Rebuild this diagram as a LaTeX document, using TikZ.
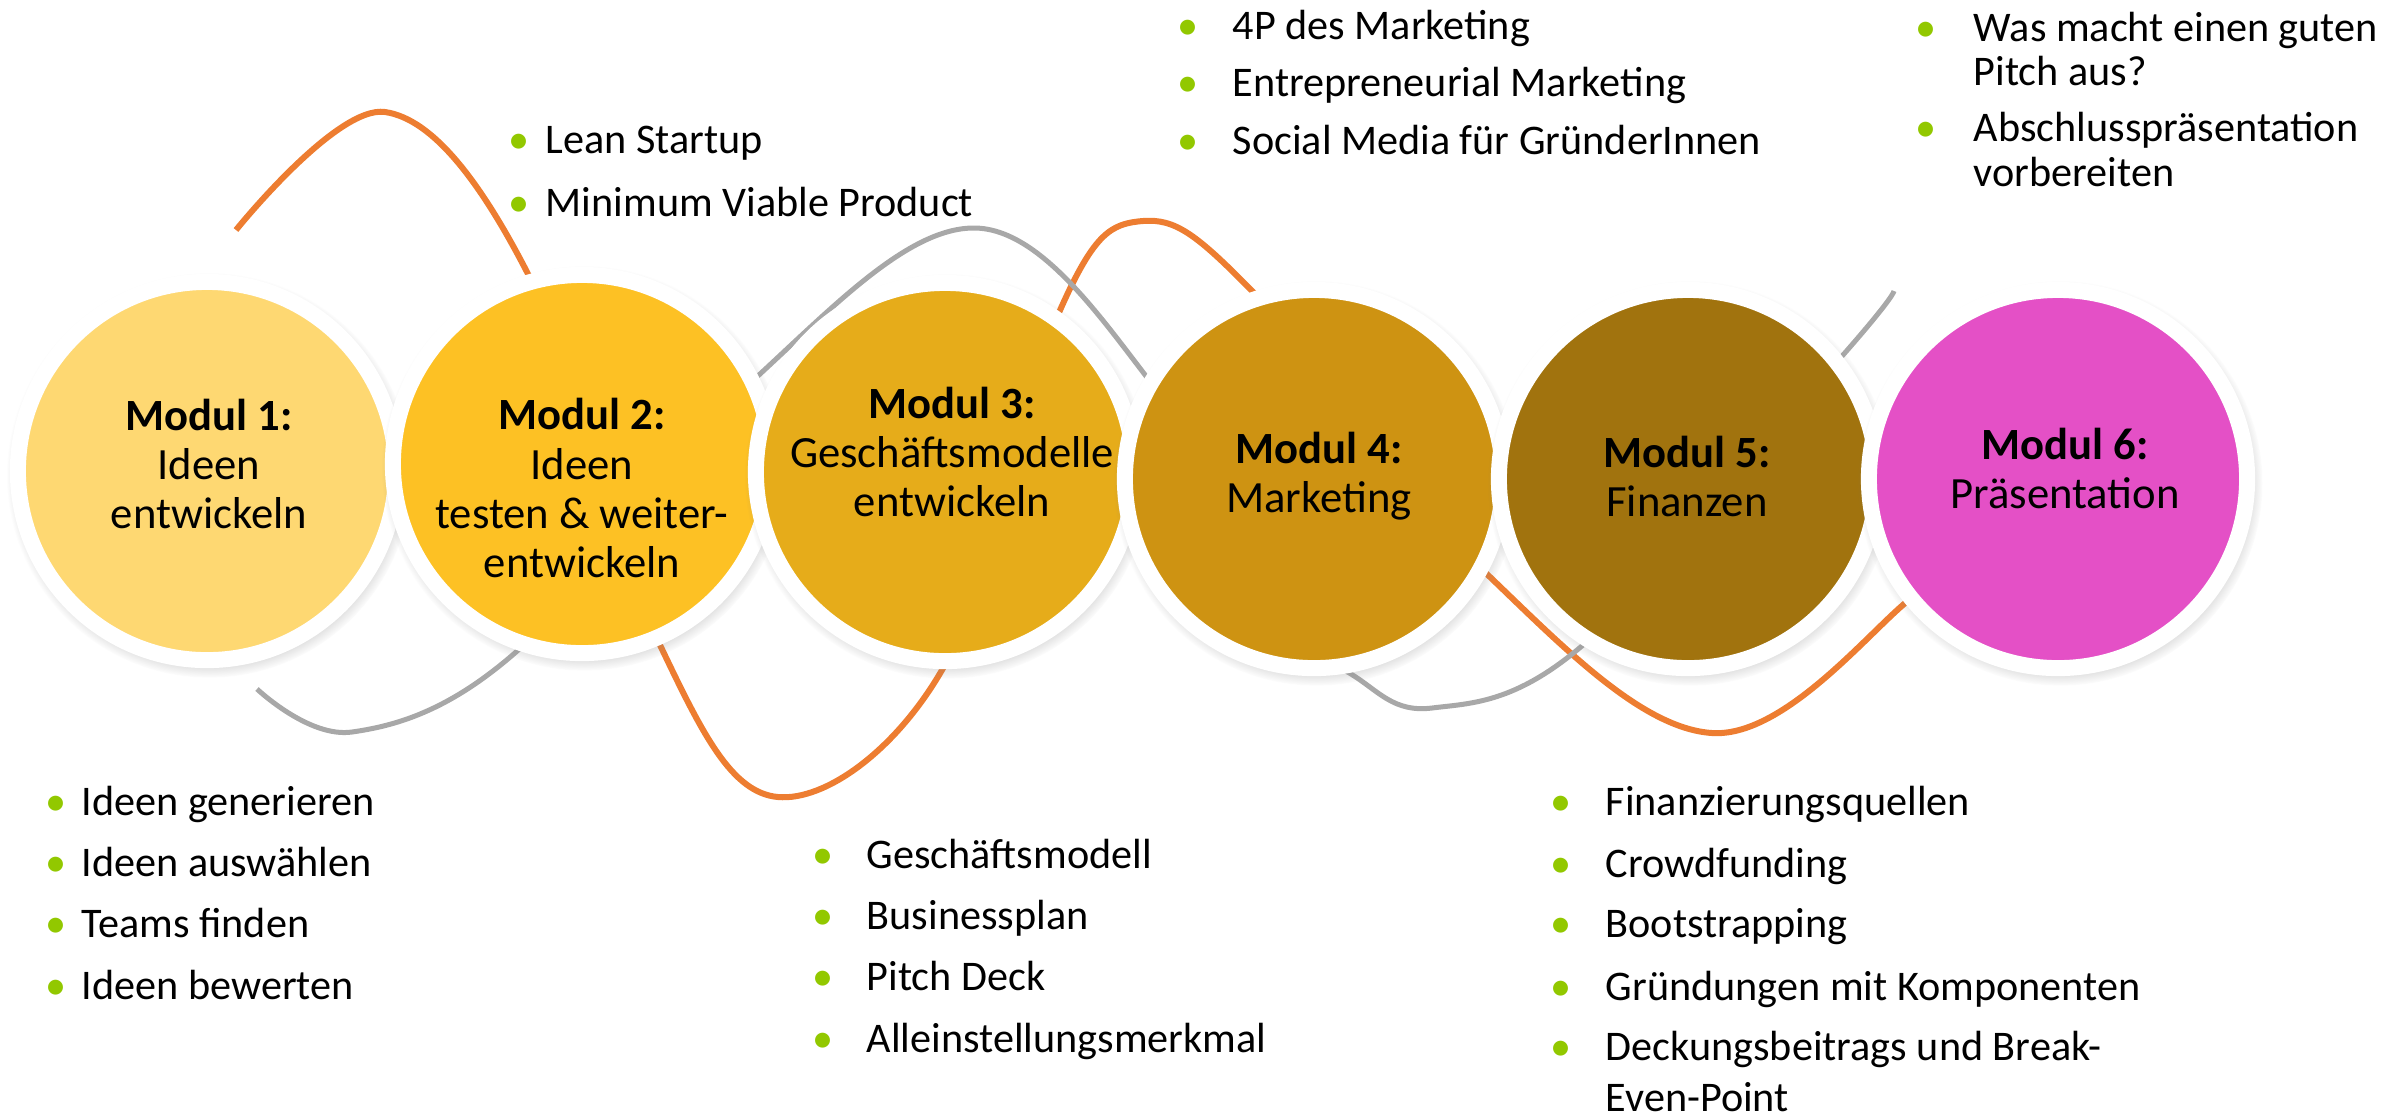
\documentclass[tikz,border=0pt]{standalone}
\usepackage{fontspec}
\setmainfont{Carlito}
\usepackage{tikz}
\usetikzlibrary{shadows}
\definecolor{modone}{RGB}{254,216,114}
\definecolor{modtwo}{RGB}{253,193,36}
\definecolor{modthree}{RGB}{230,172,26}
\definecolor{modfour}{RGB}{206,147,18}
\definecolor{modfive}{RGB}{161,115,14}
\definecolor{modsix}{RGB}{228,80,198}
\definecolor{waveorange}{RGB}{237,125,49}
\definecolor{wavegray}{RGB}{168,168,168}
\definecolor{bulgreen}{RGB}{146,200,0}
% green bullet followed by a fixed gap
\newcommand{\bul}[1][0.55cm]{\makebox[#1][l]{\textcolor{bulgreen}{\textbullet}}}
\tikzset{
  modul/.style={circle, draw=white, line width=0.16cm, minimum size=3.78cm,
    inner sep=0pt, circular drop shadow={shadow xshift=0.02cm,
    shadow yshift=-0.04cm, shadow scale=1.07, opacity=0.6}},
  modtext/.style={align=center, inner sep=0pt,
    font=\fontsize{12.7pt}{0.49cm}\selectfont},
  % anchored at the baseline of the last line
  topics/.style={align=left, inner sep=0pt, anchor=base west,
    font=\fontsize{12pt}{0.46cm}\selectfont},
  orangewave/.style={waveorange, line width=0.06cm},
  graywave/.style={wavegray, line width=0.05cm}
}

\begin{document}
\begin{tikzpicture}[x=0.01cm, y=-0.01cm]
  \useasboundingbox (0,0) rectangle (2394,1117);

  % Wavy lines behind the modules
  \draw[orangewave] plot[smooth, tension=0.6] coordinates {(236,230) (385,112)
    (527,272) (660,645) (778,797) (942,670) (1061,308) (1143,221) (1254,293)
    (1490,577) (1712,733) (1904,604) (1960,520)};
  \draw[graywave] plot[smooth, tension=0.6] coordinates {(257,689) (352,732)
    (516,652) (760,374) (975,228) (1149,380) (1270,610) (1351,674) (1432,708)
    (1583,645) (1843,355) (1894,291)};

  % Module circles
  \node[modul, fill=modone] (m1) at (207,471) {};
  \node[modul, fill=modtwo] (m2) at (582,464) {};
  \node[modul, fill=modthree] (m3) at (945,472) {};
  \node[modul, fill=modfour] (m4) at (1314,479) {};
  \node[modul, fill=modfive] (m5) at (1688,479) {};
  \node[modul, fill=modsix] (m6) at (2058,479) {};

  % Module titles
  \node[modtext] (t1) at (209,464) {\textbf{Modul 1:}\\Ideen\\entwickeln};
  \node[modtext] (t2) at (582,488) {\textbf{Modul 2:}\\Ideen\\testen \& weiter-\\entwickeln};
  \node[modtext] (t3) at (952,452) {\textbf{Modul 3:}\\Geschäftsmodelle\\entwickeln};
  \node[modtext] (t4) at (1319,476) {\textbf{Modul 4:}\\Marketing};
  \node[modtext] (t5) at (1687,476) {\textbf{Modul 5:}\\Finanzen};
  \node[modtext] (t6) at (2065,468) {\textbf{Modul 6:}\\Präsentation};

  % Topic lists
  \node[topics] (l2) at (508,216) {\bul[0.37cm]Lean Startup\\[0.16cm]
    \bul[0.37cm]Minimum Viable Product};
  \node[topics] (l4) at (1177,154) {\bul 4P des Marketing\\[0.11cm]
    \bul Entrepreneurial Marketing\\[0.11cm]
    \bul Social Media für GründerInnen};
  \node[topics] (l6) at (1915,186) {\bul[0.58cm]Was macht einen guten\\[-0.02cm]
    \hspace*{0.58cm}Pitch aus?\\[0.10cm]
    \bul[0.58cm]Abschlusspräsentation\\[-0.02cm]
    \hspace*{0.58cm}vorbereiten};
  \node[topics] (l1) at (45,999) {\bul[0.36cm]Ideen generieren\\[0.15cm]
    \bul[0.36cm]Ideen auswählen\\[0.15cm]
    \bul[0.36cm]Teams finden\\[0.15cm]
    \bul[0.36cm]Ideen bewerten};
  \node[topics] (l3) at (812,1052) {\bul[0.54cm]Geschäftsmodell\\[0.15cm]
    \bul[0.54cm]Businessplan\\[0.15cm]
    \bul[0.54cm]Pitch Deck\\[0.15cm]
    \bul[0.54cm]Alleinstellungsmerkmal};
  \node[topics] (l5) at (1550,1111) {\bul Finanzierungsquellen\\[0.16cm]
    \bul Crowdfunding\\[0.14cm]
    \bul Bootstrapping\\[0.17cm]
    \bul Gründungen mit Komponenten\\[0.14cm]
    \bul Deckungsbeitrags und Break-\\[0.04cm]
    \hspace*{0.55cm}Even-Point};
\end{tikzpicture}
\end{document}
